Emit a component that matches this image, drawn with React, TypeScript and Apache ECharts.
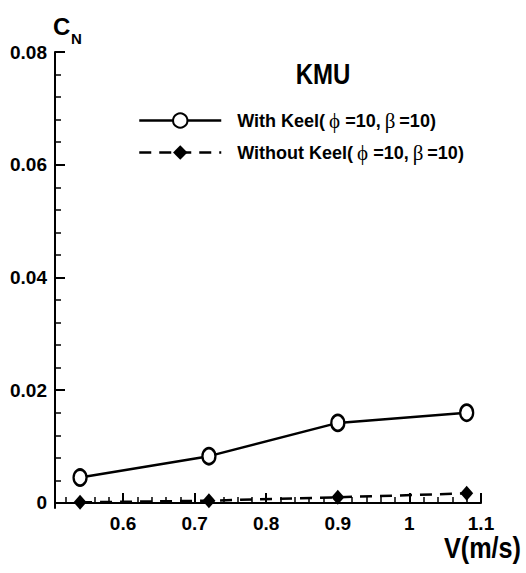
import React, { useEffect, useRef } from "react";
import * as echarts from "echarts";

const withKeelX = [0.54, 0.72, 0.9, 1.08];
const withKeelY = [0.0045, 0.0083, 0.0142, 0.016];
const withoutKeelX = [0.54, 0.72, 0.9, 1.08];
const withoutKeelY = [0.0001, 0.0004, 0.001, 0.0017];

const xMajorTicks = [0.6, 0.7, 0.8, 0.9, 1.0, 1.1];
const xMinorTicks = [0.52, 0.54, 0.56, 0.58, 0.62, 0.64, 0.66, 0.68, 0.72, 0.74, 0.76, 0.78, 0.82, 0.84, 0.86, 0.88, 0.92, 0.94, 0.96, 0.98, 1.02, 1.04, 1.06, 1.08];
const yMajorTicks = [0, 0.02, 0.04, 0.06, 0.08];
const yMinorTicks = [0.004, 0.008, 0.012, 0.016, 0.024, 0.028, 0.032, 0.036, 0.044, 0.048, 0.052, 0.056, 0.064, 0.068, 0.072, 0.076];

const seriesNames = ["With Keel", "Without Keel"];
const legendParam = ["10", "10"];

const SANS = "'Liberation Sans', Arial, Helvetica, sans-serif";
const SERIF = "'Liberation Serif', 'DejaVu Serif', serif";

export default function App() {
  const ref = useRef<HTMLDivElement>(null);
  useEffect(() => {
    if (!ref.current) return;
    const chart = echarts.init(ref.current, null, { renderer: "svg" });
    const xMin = 0.505;
    const xMax = 1.1;
    const yMin = -0.0009;
    const yMax = 0.08;
    const axisBase = {
      type: "value" as const,
      splitLine: { show: false },
    };
    const option: any = {
      animation: false,
      backgroundColor: "#fff",
      grid: { left: 55, right: 45, top: 52, bottom: 65, containLabel: false },
      xAxis: [
        {
          ...axisBase,
          position: "bottom",
          min: xMin,
          max: xMax,
          axisLine: { show: true, lineStyle: { color: "#000", width: 2 } },
          axisTick: { show: true, inside: true, length: 10, customValues: xMajorTicks, lineStyle: { color: "#000", width: 2 } },
          axisLabel: {
            show: true,
            customValues: xMajorTicks,
            margin: 6,
            color: "#000",
            fontFamily: SANS,
            fontWeight: "bold",
            fontSize: 19,
            formatter: (v: number) => String(Math.round(v * 10) / 10),
          },
        },
        {
          ...axisBase,
          position: "bottom",
          min: xMin,
          max: xMax,
          axisLine: { show: false },
          axisTick: { show: true, inside: true, length: 6, customValues: xMinorTicks, lineStyle: { color: "#000", width: 1.5 } },
          axisLabel: { show: false },
        },
      ],
      yAxis: [
        {
          ...axisBase,
          position: "left",
          min: yMin,
          max: yMax,
          axisLine: { show: true, lineStyle: { color: "#000", width: 2 } },
          axisTick: { show: true, inside: true, length: 10, customValues: yMajorTicks, lineStyle: { color: "#000", width: 2 } },
          axisLabel: {
            show: true,
            customValues: yMajorTicks,
            margin: 8,
            color: "#000",
            fontFamily: SANS,
            fontWeight: "bold",
            fontSize: 19,
            formatter: (v: number) => (Math.abs(v) < 1e-9 ? "0" : v.toFixed(2)),
          },
        },
        {
          ...axisBase,
          position: "left",
          min: yMin,
          max: yMax,
          axisLine: { show: false },
          axisTick: { show: true, inside: true, length: 6, customValues: yMinorTicks, lineStyle: { color: "#000", width: 1.5 } },
          axisLabel: { show: false },
        },
      ],
      legend: {
        orient: "vertical",
        left: 138,
        top: 110,
        padding: 0,
        itemWidth: 82,
        itemHeight: 18,
        itemGap: 11,
        data: seriesNames,
        lineStyle: { width: 2.5 },
        formatter: (name: string) =>
          `{b0|${name}(}{g|\u03D5}{b|=${legendParam[0]},}{g2|\u03B2}{b|=${legendParam[1]})}`,
        textStyle: {
          color: "#000",
          rich: {
            b0: { fontFamily: SANS, fontWeight: "bold", fontSize: 18, lineHeight: 20, color: "#000", padding: [0, 0, 0, 11] },
            b: { fontFamily: SANS, fontWeight: "bold", fontSize: 18, lineHeight: 20, color: "#000" },
            g: { fontFamily: SERIF, fontWeight: "normal", fontSize: 21, lineHeight: 20, color: "#000", padding: [0, 5, 0, 4] },
            g2: { fontFamily: SERIF, fontWeight: "normal", fontSize: 21, lineHeight: 20, color: "#000", padding: [0, 4, 0, 4] },
          },
        },
      },
      graphic: [
        { type: "text", x: 53, y: 26, style: { text: "C", font: `bold 24px ${SANS}`, fill: "#000", textVerticalAlign: "middle" } },
        { type: "text", x: 71, y: 38, style: { text: "N", font: `bold 15px ${SANS}`, fill: "#000", textVerticalAlign: "middle" } },
        { type: "text", x: 323, y: 74, scaleX: 0.8, style: { text: "KMU", font: `bold 30px ${SANS}`, fill: "#000", textAlign: "center", textVerticalAlign: "middle" } },
        { type: "text", x: 521, y: 548, scaleX: 0.87, style: { text: "V(m/s)", font: `bold 29px ${SANS}`, fill: "#000", textAlign: "right", textVerticalAlign: "middle" } },
      ],
      series: [
        {
          name: seriesNames[0],
          type: "line",
          xAxisIndex: 0,
          yAxisIndex: 0,
          data: withKeelX.map((x, i) => [x, withKeelY[i]]),
          symbol: "circle",
          symbolSize: [13, 16],
          lineStyle: { color: "#000", width: 2.5, type: "solid" },
          itemStyle: { color: "#fff", borderColor: "#000", borderWidth: 2.5 },
          z: 3,
        },
        {
          name: seriesNames[1],
          type: "line",
          xAxisIndex: 0,
          yAxisIndex: 0,
          data: withoutKeelX.map((x, i) => [x, withoutKeelY[i]]),
          symbol: "diamond",
          symbolSize: [13, 15],
          lineStyle: { color: "#000", width: 2.5, type: [12, 8] },
          itemStyle: { color: "#000", borderColor: "#000", borderWidth: 0 },
          z: 3,
        },
      ],
    };
    chart.setOption(option);
    return () => chart.dispose();
  }, []);
  return <div ref={ref} style={{ position: "absolute", left: 0, top: 0, width: 526, height: 573 }} />;
}
